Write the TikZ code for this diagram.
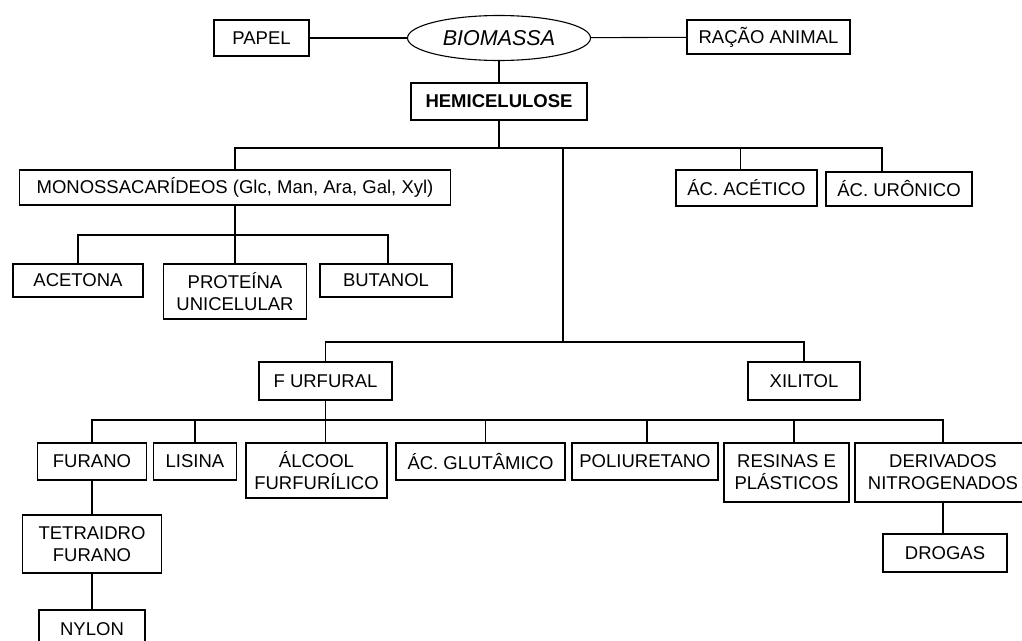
\documentclass[tikz,border=0pt]{standalone}
\usepackage{fontspec}
\setmainfont{Liberation Sans}
\usetikzlibrary{shapes.geometric}
\tikzstyle{prod}=[rectangle,draw=black,line width=1.1pt,inner sep=2pt,text centered,align=center,font=\fontsize{18.5}{22}\selectfont]
\tikzstyle{root}=[ellipse,draw=black,line width=1.1pt,inner sep=0pt,font=\fontsize{21.5}{24}\selectfont\itshape]
\tikzstyle{link}=[line width=1.1pt]

\begin{document}
\begin{tikzpicture}[x=1pt,y=-1pt]
\useasboundingbox (0,0) rectangle (1022,640);
\node(bio)[root,minimum width=183pt,minimum height=45pt] at (499,38){BIOMASSA};
\node(papel)[prod,minimum width=95pt,minimum height=36pt] at (261.5,38){PAPEL};
\node(racao)[prod,minimum width=163pt,minimum height=34pt] at (768.5,37){RAÇÃO ANIMAL};
\node(hemi)[prod,minimum width=176pt,minimum height=37pt,font=\fontsize{18.5}{22}\selectfont\bfseries] at (499,101.5){HEMICELULOSE};
\node(mono)[prod,minimum width=431pt,minimum height=35pt] at (235,187.5){MONOSSACARÍDEOS (Glc, Man, Ara, Gal, Xyl)};
\node(acetico)[prod,minimum width=141pt,minimum height=36pt] at (746.5,188){ÁC. ACÉTICO};
\node(uronico)[prod,minimum width=146pt,minimum height=34pt] at (899,189){ÁC. URÔNICO};
\node(acetona)[prod,minimum width=130pt,minimum height=33pt] at (78,280.5){ACETONA};
\node(proteina)[prod,minimum width=143pt,minimum height=55pt] at (235,291.5){PROTEÍNA\\UNICELULAR};
\node(butanol)[prod,minimum width=132pt,minimum height=33pt] at (386,280.5){BUTANOL};
\node(furfural)[prod,minimum width=133pt,minimum height=38pt] at (325.5,381){F URFURAL};
\node(xilitol)[prod,minimum width=112pt,minimum height=38pt] at (804,381){XILITOL};
\node(furano)[prod,minimum width=109pt,minimum height=37pt] at (92,461.5){FURANO};
\node(lisina)[prod,minimum width=83pt,minimum height=37pt] at (195,461.5){LISINA};
\node(alcool)[prod,minimum width=141pt,minimum height=55pt] at (316.5,470.5){ÁLCOOL\\FURFURÍLICO};
\node(glutamico)[prod,minimum width=169pt,minimum height=37pt] at (480.5,461.5){ÁC. GLUTÂMICO};
\node(poliuretano)[prod,minimum width=146pt,minimum height=37pt] at (645,461.5){POLIURETANO};
\node(resinas)[prod,minimum width=125pt,minimum height=59pt] at (786.5,472.5){RESINAS E\\PLÁSTICOS};
\node(derivados)[prod,minimum width=176pt,minimum height=59pt] at (943,472.5){DERIVADOS\\NITROGENADOS};
\node(drogas)[prod,minimum width=124pt,minimum height=38pt] at (945,553){DROGAS};
\node(tetraidro)[prod,minimum width=139pt,minimum height=58pt] at (92,544){TETRAIDRO\\FURANO};
\node(nylon)[prod,minimum width=106pt,minimum height=38pt] at (92,629){NYLON};
\coordinate(b1) at (0,148);
\coordinate(b3) at (0,235);
\coordinate(b4) at (0,420);
\coordinate(j1) at (563,148);
\coordinate(j2) at (563,342);
\draw[link](papel)--(bio);
\draw[link](bio)--(racao);
\draw[link](bio)--(hemi);
\draw[link](hemi.south)--(hemi.south|-b1)-|(mono.north);
\draw[link](hemi.south|-b1)-|([xshift=-17pt]uronico.north);
\draw[link]([xshift=-6pt]acetico.north)--([xshift=-6pt]acetico.north|-b1);
\draw[link](j1)--(j2);
\draw[link](j2)-|(furfural.north);
\draw[link](j2)-|(xilitol.north);
\draw[link](mono.south)--(proteina.north);
\draw[link](acetona.north)--(acetona.north|-b3)-|([xshift=2pt]butanol.north);
\draw[link](furfural.south)--(furfural.south|-alcool.north);
\draw[link](furano.north)--(furano.north|-b4)-|(derivados.north);
\draw[link](lisina.north)--(lisina.north|-b4);
\draw[link]([xshift=5pt]glutamico.north)--([xshift=5pt]glutamico.north|-b4);
\draw[link]([xshift=2pt]poliuretano.north)--([xshift=2pt]poliuretano.north|-b4);
\draw[link]([xshift=7.5pt]resinas.north)--([xshift=7.5pt]resinas.north|-b4);
\draw[link](furano)--(tetraidro);
\draw[link](tetraidro)--(nylon);
\draw[link](derivados.south)--(derivados.south|-drogas.north);
\end{tikzpicture}
\end{document}
